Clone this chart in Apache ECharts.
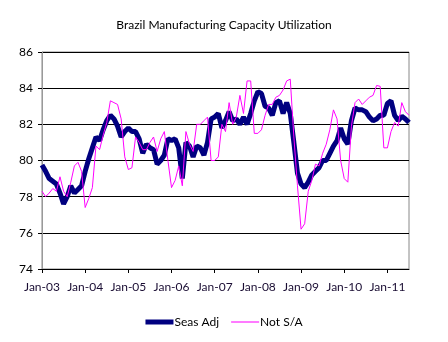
<!DOCTYPE html>
<html>
<head>
<meta charset="utf-8">
<script src="https://cdn.jsdelivr.net/npm/echarts@6/dist/echarts.min.js"></script>
<style>html,body{margin:0;padding:0;background:#fff}#c{width:448px;height:342px}</style>
</head>
<body>
<div id="c"></div>
<script>
var years = ['03','04','05','06','07','08','09','10','11'];
var monthNames = ['Jan','Feb','Mar','Apr','May','Jun','Jul','Aug','Sep','Oct','Nov','Dec'];
var yTicks = [74, 76, 78, 80, 82, 84, 86];
var seasAdj = [79.75,79.4,79.0,78.85,78.7,78.2,77.6,78.0,78.6,78.2,78.4,78.6,
79.4,80.1,80.7,81.3,81.1,81.7,82.2,82.5,82.3,81.9,81.3,81.6,
81.8,81.6,81.6,81.2,80.4,80.9,80.7,80.6,79.8,80.0,80.3,81.2,
81.1,81.2,80.7,79.0,81.0,80.8,80.2,80.8,80.7,80.3,81.0,82.3,
82.4,82.6,81.8,82.2,82.7,82.2,82.3,82.0,82.4,82.0,82.6,83.3,
83.8,83.7,83.0,82.9,82.5,83.2,83.3,82.6,83.2,82.6,81.0,79.3,
78.7,78.5,78.8,79.2,79.4,79.6,80.0,80.0,80.4,80.8,81.1,81.8,
81.2,80.9,82.2,82.9,82.8,82.8,82.7,82.4,82.2,82.3,82.5,82.5,
83.15,83.3,82.5,82.2,82.45,82.3,82.1];
var notSA = [78.3,78.0,78.2,78.45,78.3,79.1,78.3,78.0,78.8,79.7,79.9,79.4,
77.4,77.9,78.5,80.8,80.6,81.4,82.1,83.3,83.2,83.1,82.3,80.2,
79.5,79.6,81.3,81.0,80.6,80.6,81.0,81.3,80.5,81.2,81.6,80.0,
78.5,78.9,79.7,78.6,81.6,80.9,80.5,82.0,82.0,82.2,82.4,80.0,
80.0,80.2,82.0,81.6,83.2,82.0,82.4,83.6,82.6,84.4,84.4,81.5,
81.5,81.7,82.5,83.1,83.1,83.5,83.6,83.9,84.4,84.5,81.3,78.6,
76.2,76.5,78.3,78.9,79.8,79.7,80.4,80.9,81.7,82.8,82.3,80.0,
79.0,78.8,81.9,83.2,83.4,83.1,83.3,83.5,83.6,84.15,84.1,80.7,
80.7,81.6,82.1,81.9,83.2,82.7,82.5];

var categories = [];
for (var y = 0; y < years.length; y++) {
  for (var m = 0; m < 12; m++) {
    if (categories.length < seasAdj.length) categories.push(monthNames[m] + '-' + years[y]);
  }
}

var font = 'Lato, "Open Sans", sans-serif';
var chart = echarts.init(document.getElementById('c'));
chart.setOption({
  animation: false,
  title: {
    text: 'Brazil Manufacturing Capacity Utilization',
    left: 'center', top: 14,
    textStyle: {fontFamily: font, fontSize: 12, fontWeight: 'normal', color: '#000'}
  },
  legend: {
    bottom: 9, left: 'center',
    itemWidth: 28, itemHeight: 5, itemGap: 12,
    textStyle: {fontFamily: font, fontSize: 12, color: '#000', padding: [0,0,0,-4]},
    data: [
      {name: 'Seas Adj', icon: 'rect', itemStyle: {color: '#000080'}},
      {name: 'Not S/A', icon: 'path://M0,4.5 L27,4.5 L27,5.5 L0,5.5 Z', itemStyle: {color: '#ff00ff'}}
    ]
  },
  grid: {left: 42, right: 39, top: 52, bottom: 73, show: true, borderColor: '#888', borderWidth: 1},
  xAxis: {
    type: 'category', data: categories, boundaryGap: false,
    axisLine: {lineStyle: {color: '#000'}},
    axisTick: {interval: 11, length: 4, lineStyle: {color: '#000'}},
    axisLabel: {interval: 11, margin: 12, fontFamily: font, fontSize: 12, color: '#1a0d33'},
    splitLine: {show: false}
  },
  yAxis: {
    type: 'value', min: yTicks[0], max: yTicks[yTicks.length-1], interval: 2,
    axisLine: {show: true, lineStyle: {color: '#999'}},
    axisTick: {show: true, length: 4, lineStyle: {color: '#000'}},
    axisLabel: {margin: 9, fontFamily: font, fontSize: 12, color: '#000'},
    splitLine: {lineStyle: {color: '#000', width: 1}}
  },
  series: [
    {name: 'Seas Adj', type: 'line', data: seasAdj, symbol: 'none', z: 2,
     lineStyle: {color: '#000080', width: 5}, itemStyle: {color: '#000080'}},
    {name: 'Not S/A', type: 'line', data: notSA, symbol: 'none', z: 3,
     lineStyle: {color: '#ff00ff', width: 1}, itemStyle: {color: '#ff00ff'}}
  ]
});
</script>
</body>
</html>
